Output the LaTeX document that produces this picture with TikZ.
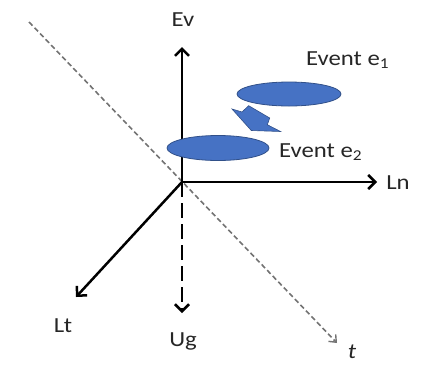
\documentclass[tikz,border=0pt]{standalone}
\usepackage{fontspec}
\setmainfont{Carlito}
\usetikzlibrary{arrows.meta}
\newcommand{\wide}[1]{\scalebox{1.15}[1]{#1}}
\begin{document}
\begin{tikzpicture}[x=1pt,y=-1pt,
  axis/.style={line width=2.5pt,-{Straight Barb[length=7pt,width=14pt,line width=2.5pt]}},
  lbl/.style={font=\fontsize{21.5}{26}\selectfont,inner sep=0pt,text=black!85},
]
\definecolor{evblue}{RGB}{70,114,196}
\useasboundingbox (0,0) rectangle (430,365);
\coordinate (o) at (182,182);
\coordinate (tstart) at (29,22);
\coordinate (tend) at (337,343);
\coordinate (evend) at (182,47);
\coordinate (lnend) at (377,182);
\coordinate (ltend) at (76,297);
\coordinate (ugend) at (182,313);
% time line
\draw[black!55,line width=1.6pt,dash pattern=on 5pt off 3pt,-{Straight Barb[length=6pt,width=10pt,line width=1.4pt]}] (tstart) -- (tend);
% axes
\draw[axis] (o) -- (evend);
\draw[axis] (o) -- (lnend);
\draw[axis] (o) -- (ltend);
\draw[axis,dash pattern=on 15pt off 6pt] (o) -- (ugend);
% labels
\node[lbl] (ev) at (183,20) {\wide{Ev}};
\node[lbl] (ln) at (398,183) {\wide{Ln}};
\node[lbl] (lt) at (63,326) {\wide{Lt}};
\node[lbl] (ug) at (183,341) {\wide{Ug}};
\node[lbl] (t) at (352,352) {\wide{\textit{t}}};
% events
\fill[evblue,draw=evblue!70!black,line width=0.8pt] (289,94) ellipse [x radius=52, y radius=12];
\fill[evblue,draw=evblue!70!black,line width=0.8pt] (218,148) ellipse [x radius=51, y radius=12.5];
% block arrow
\fill[evblue,draw=evblue!70!black,line width=0.6pt]
  (232,109) -- (242,112) -- (248.7,105.7) -- (269.7,118) -- (267.3,124.7) -- (280.5,131.5) -- (251.3,130.5) -- cycle;
\node[lbl,anchor=west] (e1) at (306,60) {\wide{Event e\textsubscript{1}}};
\node[lbl,anchor=west] (e2) at (279,152) {\wide{Event e\textsubscript{2}}};
\end{tikzpicture}
\end{document}
